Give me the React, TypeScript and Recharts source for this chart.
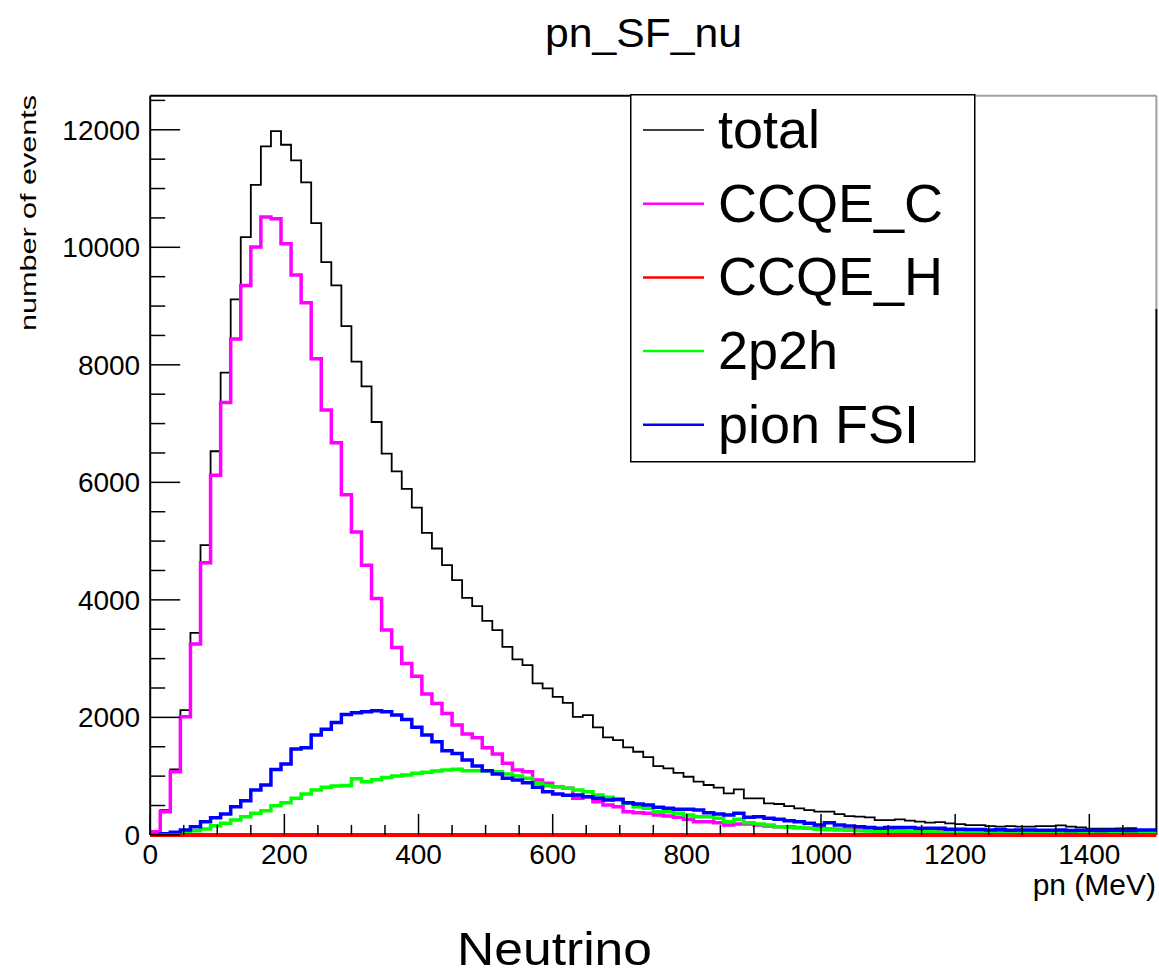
import React from "react";
import { LineChart, Line, XAxis, YAxis, Legend, ReferenceLine } from "recharts";

const FONT = '"Liberation Sans", Arial, Helvetica, sans-serif';

// histogram: 100 bins of 15 MeV from 0 to 1500 MeV
const BIN_WIDTH = 15;
const X_MAX = 1500;
const Y_MAX = 12580;

const TOTAL = [
  60, 420, 1115, 2124, 3439, 4930, 6529, 7867, 9114, 10173,
  11064, 11716, 11976, 11745, 11478, 11104, 10412, 9749, 9352, 8660,
  8054, 7634, 7027, 6489, 6188, 5890, 5571, 5140, 4874, 4590,
  4335, 4034, 3893, 3643, 3485, 3201, 2986, 2889, 2578, 2493,
  2350, 2248, 2010, 2039, 1830, 1660, 1614, 1490, 1415, 1325,
  1172, 1133, 1055, 990, 905, 849, 803, 707, 775, 622,
  622, 537, 526, 491, 452, 423, 395, 395, 355, 321,
  310, 299, 253, 253, 265, 242, 225, 208, 219, 197,
  185, 168, 168, 151, 140, 151, 140, 140, 151, 151,
  163, 140, 128, 105, 105, 105, 110, 117, 72, 83,
];

const CCQE_C = [
  55, 395, 1075, 2010, 3247, 4630, 6121, 7357, 8439, 9352,
  10004, 10514, 10486, 10061, 9528, 9057, 8105, 7230, 6673, 5790,
  5157, 4590, 4024, 3485, 3190, 2918, 2702, 2396, 2238, 2068,
  1869, 1716, 1653, 1483, 1376, 1218, 1104, 1075, 934, 878,
  820, 792, 622, 650, 565, 509, 480, 395, 378, 367,
  338, 321, 300, 265, 225, 225, 208, 168, 185, 185,
  168, 151, 140, 140, 128, 112, 112, 100, 97, 88,
  83, 80, 72, 75, 66, 63, 60, 62, 55, 52,
  50, 52, 47, 45, 44, 46, 40, 41, 38, 37,
  36, 38, 33, 32, 34, 30, 29, 31, 28, 27,
];

const CCQE_H = [
  0, 0, 0, 0, 0, 0, 0, 0, 0, 0,
  0, 0, 0, 0, 0, 0, 0, 0, 0, 0,
  0, 0, 0, 0, 0, 0, 0, 0, 0, 0,
  0, 0, 0, 0, 0, 0, 0, 0, 0, 0,
  0, 0, 0, 0, 0, 0, 0, 0, 0, 0,
  0, 0, 0, 0, 0, 0, 0, 0, 0, 0,
  0, 0, 0, 0, 0, 0, 0, 0, 0, 0,
  0, 0, 0, 0, 0, 0, 0, 0, 0, 0,
  0, 0, 0, 0, 0, 0, 0, 0, 0, 0,
  0, 0, 0, 0, 0, 0, 0, 0, 0, 0,
];

const TWO_P2H = [
  0, 0, 10, 44, 72, 100, 157, 197, 253, 310,
  367, 412, 497, 548, 622, 696, 764, 809, 832, 840,
  956, 905, 940, 975, 1002, 1019, 1048, 1065, 1087, 1104,
  1116, 1092, 1092, 1092, 1075, 1036, 1002, 962, 878, 835,
  820, 792, 763, 735, 679, 639, 594, 537, 480, 455,
  395, 395, 367, 338, 310, 310, 282, 225, 265, 208,
  185, 168, 140, 130, 120, 112, 95, 88, 83, 80,
  72, 68, 62, 60, 57, 55, 50, 52, 46, 44,
  42, 40, 41, 37, 35, 36, 33, 32, 30, 31,
  29, 28, 27, 28, 25, 24, 26, 23, 22, 22,
];

const PION_FSI = [
  0, 20, 44, 83, 140, 225, 293, 355, 480, 582,
  764, 849, 1115, 1206, 1461, 1483, 1699, 1796, 1915, 2051,
  2079, 2096, 2113, 2096, 2039, 1966, 1830, 1699, 1585, 1432,
  1387, 1274, 1172, 1092, 1036, 962, 934, 888, 809, 735,
  696, 673, 679, 650, 622, 594, 605, 548, 526, 509,
  469, 452, 435, 435, 423, 378, 355, 338, 367, 299,
  310, 282, 265, 242, 225, 197, 168, 208, 168, 151,
  140, 128, 112, 128, 128, 128, 112, 112, 112, 95,
  95, 90, 92, 85, 88, 80, 83, 85, 78, 80,
  82, 75, 78, 80, 76, 78, 80, 75, 83, 85,
];

const X_MAJOR = [0, 200, 400, 600, 800, 1000, 1200, 1400];
const Y_MAJOR = [0, 2000, 4000, 6000, 8000, 10000, 12000];
const X_TICKS = Array.from({ length: 30 }, (_, i) => i * 50);
const Y_TICKS = Array.from({ length: 26 }, (_, i) => i * 500);

// legend order (drawing order differs: red goes on top)
const SERIES = [
  { key: "total", name: "total", color: "#000000", width: 1.8 },
  { key: "ccqeC", name: "CCQE_C", color: "#ff00ff", width: 3.5 },
  { key: "ccqeH", name: "CCQE_H", color: "#ff0000", width: 4 },
  { key: "twoP2h", name: "2p2h", color: "#00ff00", width: 3.5 },
  { key: "pionFSI", name: "pion FSI", color: "#0000ff", width: 3.5 },
];
const DRAW_ORDER = ["total", "ccqeC", "twoP2h", "pionFSI", "ccqeH"];

const row = (i: number, pn: number) => ({
  pn,
  total: TOTAL[i],
  ccqeC: CCQE_C[i],
  ccqeH: CCQE_H[i],
  twoP2h: TWO_P2H[i],
  pionFSI: PION_FSI[i],
});
// one point per bin low edge, plus the last bin repeated at the upper edge
const data = [...TOTAL.map((_, i) => row(i, i * BIN_WIDTH)), row(TOTAL.length - 1, X_MAX)];

const XTick = ({ x, y, payload }: any) => {
  const major = X_MAJOR.includes(payload.value);
  return (
    <g>
      <line x1={x} x2={x} y1={y} y2={y - (major ? 21 : 10)} stroke="#000" strokeWidth={1.5} />
      {major && (
        <text x={x} y={y + 29} textAnchor="middle" fontSize={28} fontFamily={FONT} fill="#000">
          {payload.value}
        </text>
      )}
    </g>
  );
};

const YTick = ({ x, y, payload }: any) => {
  const major = Y_MAJOR.includes(payload.value);
  return (
    <g>
      <line x1={x} x2={x + (major ? 30 : 15)} y1={y} y2={y} stroke="#000" strokeWidth={1.5} />
      {major && (
        <text x={x - 10} y={y + 10} textAnchor="end" fontSize={28} fontFamily={FONT} fill="#000">
          {payload.value}
        </text>
      )}
    </g>
  );
};

const LegendBox = (props: any) => {
  const payload: any[] = props.payload || [];
  return (
    <svg width={346} height={369} style={{ display: "block" }}>
      <rect x={0.75} y={0.75} width={344} height={367} fill="#fff" stroke="#000" strokeWidth={1.5} />
      {SERIES.map((s, i) => {
        const cy = 36 + i * 73.7;
        const color = payload.find((p) => p.dataKey === s.key)?.color ?? s.color;
        return (
          <g key={s.key}>
            <line x1={13} x2={74} y1={cy} y2={cy} stroke={color} strokeWidth={s.key === "total" ? 1.5 : 2.5} />
            <text x={88} y={cy + 18} fontSize={54} fontFamily={FONT} fill="#000">
              {s.name}
            </text>
          </g>
        );
      })}
    </svg>
  );
};

export default function App() {
  return (
    <div style={{ position: "absolute", left: 0, top: 0, width: 1159, height: 974, background: "#fff" }}>
      <LineChart
        width={1159}
        height={974}
        data={data}
        margin={{ top: 95.7, right: 2.6, left: 90.2, bottom: 99.1 }}
      >
        <XAxis
          type="number"
          dataKey="pn"
          domain={[0, X_MAX]}
          ticks={X_TICKS}
          interval={0}
          height={40}
          tickSize={0}
          tickMargin={0}
          tickLine={false}
          axisLine={false}
          tick={<XTick />}
        />
        <YAxis
          type="number"
          domain={[0, Y_MAX]}
          ticks={Y_TICKS}
          interval={0}
          width={60}
          tickSize={0}
          tickMargin={0}
          tickLine={false}
          axisLine={{ stroke: "#000", strokeWidth: 2 }}
          tick={<YTick />}
        />
        <ReferenceLine segment={[{ x: 0, y: Y_MAX }, { x: 720, y: Y_MAX }]} stroke="#000" strokeWidth={2} />
        <ReferenceLine segment={[{ x: 720, y: Y_MAX }, { x: X_MAX, y: Y_MAX }]} stroke="#a0a0a0" strokeWidth={2} />
        <ReferenceLine segment={[{ x: X_MAX, y: 0 }, { x: X_MAX, y: 8950 }]} stroke="#000" strokeWidth={2} />
        <ReferenceLine segment={[{ x: X_MAX, y: 8950 }, { x: X_MAX, y: Y_MAX }]} stroke="#a0a0a0" strokeWidth={2} />
        {DRAW_ORDER.map((k) => {
          const s = SERIES.find((e) => e.key === k)!;
          return (
            <Line
              key={k}
              type="stepAfter"
              dataKey={k}
              name={s.name}
              stroke={s.color}
              strokeWidth={s.width}
              strokeLinejoin="miter"
              dot={false}
              activeDot={false}
              isAnimationActive={false}
            />
          );
        })}
        <Legend
          verticalAlign="middle"
          align="center"
          content={<LegendBox />}
          wrapperStyle={{ position: "absolute", left: 630, top: 94, width: 346, height: 369 }}
        />
      </LineChart>
      <svg
        width={1159}
        height={974}
        style={{ position: "absolute", left: 0, top: 0, pointerEvents: "none" }}
      >
        <text x={643.5} y={47} textAnchor="middle" fontSize={40} fontFamily={FONT} textLength={197} lengthAdjust="spacingAndGlyphs">
          pn_SF_nu
        </text>
        <text x={1156} y={895} textAnchor="end" fontSize={30} fontFamily={FONT}>
          pn (MeV)
        </text>
        <text x={554.5} y={965} textAnchor="middle" fontSize={46} fontFamily={FONT} textLength={195} lengthAdjust="spacingAndGlyphs">
          Neutrino
        </text>
        <text
          transform="translate(36 213) rotate(-90)"
          textAnchor="middle"
          fontSize={22}
          fontFamily={FONT}
          textLength={236}
          lengthAdjust="spacingAndGlyphs"
        >
          number of events
        </text>
      </svg>
    </div>
  );
}
